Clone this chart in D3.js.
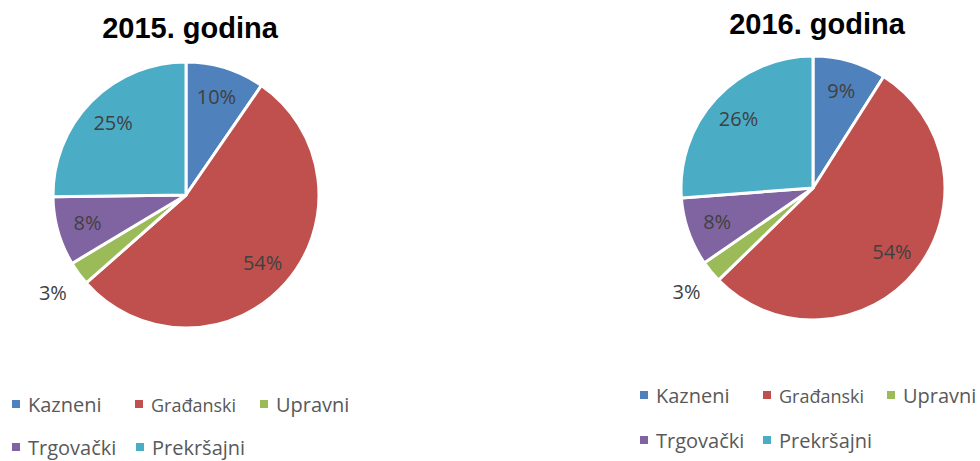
<!DOCTYPE html>
<html>
<head>
<meta charset="utf-8">
<script src="https://cdn.jsdelivr.net/npm/d3@7"></script>
<style>
  body { margin: 0; background: #fff; }
  svg { display: block; }
</style>
</head>
<body>
<div id="chart"></div>
<script>
// categories and shares
var categories = ["Kazneni", "Građanski", "Upravni", "Trgovački", "Prekršajni"];
var colors = ["#4F81BD", "#C0504D", "#9BBB59", "#8064A2", "#4BACC6"];
var values2015 = [9.6, 53.9, 2.9, 8.4, 25.2];
var values2016 = [9.0, 53.7, 2.7, 8.4, 26.2];
var titles = ["2015. godina", "2016. godina"];

var svg = d3.select("#chart").append("svg")
    .attr("width", 980)
    .attr("height", 461);

var pie = d3.pie().sort(null).value(function(d) { return d; });
var pct = d3.format(".0%");

// one panel = title + pie + legend
function drawPanel(opts) {
    var g = svg.append("g");
    var total = d3.sum(opts.values);

    g.append("text")
        .attr("x", opts.titleX)
        .attr("y", opts.titleY)
        .attr("text-anchor", "middle")
        .style("font-family", "'Liberation Sans', Arial, sans-serif")
        .style("font-weight", "bold")
        .style("font-size", "29px")
        .style("fill", "#000")
        .text(opts.title);

    var arc = d3.arc().innerRadius(0).outerRadius(opts.r);
    var inner = d3.arc().innerRadius(opts.r * 0.77).outerRadius(opts.r * 0.77);
    var outer = d3.arc().innerRadius(opts.r * 1.24).outerRadius(opts.r * 1.24);

    var pg = g.append("g").attr("transform", "translate(" + opts.cx + "," + opts.cy + ")");
    var arcs = pie(opts.values);

    pg.selectAll("path.slice")
        .data(arcs)
        .enter().append("path")
        .attr("class", "slice")
        .attr("d", arc)
        .attr("fill", function(d, i) { return colors[i]; })
        .attr("stroke", "#fff")
        .attr("stroke-width", 3)
        .attr("stroke-linejoin", "round");

    pg.selectAll("text.lbl")
        .data(arcs)
        .enter().append("text")
        .attr("class", "lbl")
        .attr("transform", function(d) {
            var small = d.value / total < 0.05;
            return "translate(" + (small ? outer : inner).centroid(d) + ")";
        })
        .attr("text-anchor", "middle")
        .attr("dy", "0.36em")
        .style("font-family", "'Open Sans', sans-serif")
        .style("font-size", "20px")
        .style("fill", "#404040")
        .text(function(d) { return pct(d.value / total); });

    // legend, two rows like the original
    var lg = g.append("g");
    var items = lg.selectAll("g.item")
        .data(categories)
        .enter().append("g")
        .attr("class", "item")
        .attr("transform", function(d, i) {
            var p = opts.legendPos[i];
            return "translate(" + p[0] + "," + p[1] + ")";
        });
    items.append("rect")
        .attr("x", 0)
        .attr("y", -12)
        .attr("width", 8)
        .attr("height", 8)
        .attr("fill", function(d, i) { return colors[i]; });
    items.append("text")
        .attr("x", 16)
        .attr("y", 0)
        .style("font-family", "'Open Sans', sans-serif")
        .style("font-size", function(d, i) { return i === 1 ? "18px" : "20px"; })
        .style("fill", "#595959")
        .text(function(d) { return d; });
}

drawPanel({
    title: titles[0], titleX: 190, titleY: 38,
    values: values2015, cx: 186, cy: 195, r: 133,
    legendPos: [[12, 412], [135, 412], [260, 412], [12, 455], [136, 455]]
});

drawPanel({
    title: titles[1], titleX: 817, titleY: 34,
    values: values2016, cx: 813, cy: 188, r: 132,
    legendPos: [[640, 403], [763, 403], [887, 403], [640, 448], [763, 448]]
});
</script>
</body>
</html>
